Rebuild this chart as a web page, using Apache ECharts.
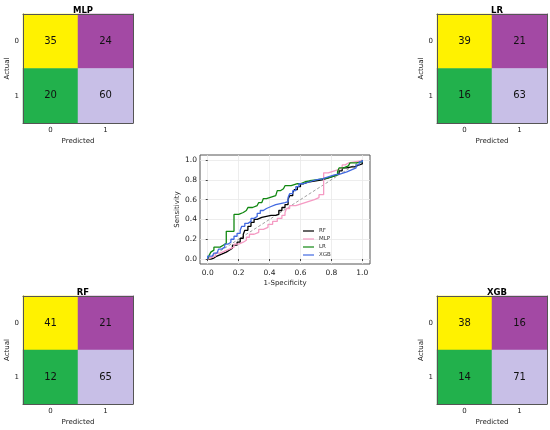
<!DOCTYPE html>
<html>
<head>
<meta charset="utf-8">
<script src="https://cdn.jsdelivr.net/npm/echarts@6/dist/echarts.min.js"></script>
<style>
  html, body { margin: 0; padding: 0; background: #fff; }
  #main { width: 550px; height: 430px; }
</style>
</head>
<body>
<div id="main"></div>
<script>
// confusion matrices: [TN, FP, FN, TP] read row by row (actual 0 / actual 1)
var cmMLP = [35, 24, 20, 60];
var cmLR = [39, 21, 16, 63];
var cmRF = [41, 21, 12, 65];
var cmXGB = [38, 16, 14, 71];
var classLabels = ['0', '1'];
var cellColors = ['#fff200', '#a349a4', '#22b14c', '#c8bfe7'];

// ROC curves, [1-specificity, sensitivity]
var rocRF = [[0,0],[0.02,0.01],[0.04,0.03],[0.06,0.05],[0.09,0.07],[0.12,0.09],[0.14,0.11],[0.16,0.14],[0.19,0.17],[0.21,0.21],[0.23,0.25],[0.24,0.29],[0.26,0.33],[0.28,0.37],[0.30,0.40],[0.32,0.42],[0.35,0.43],[0.38,0.44],[0.41,0.44],[0.44,0.45],[0.46,0.49],[0.48,0.52],[0.50,0.55],[0.52,0.60],[0.53,0.64],[0.55,0.67],[0.56,0.70],[0.58,0.73],[0.60,0.76],[0.62,0.78],[0.66,0.79],[0.70,0.80],[0.74,0.82],[0.78,0.84],[0.82,0.86],[0.85,0.89],[0.87,0.92],[0.90,0.93],[0.93,0.93],[0.95,0.95],[0.98,0.96],[1.00,0.98],[1.00,1.00]];
var rocMLP = [[0,0],[0,0.02],[0.03,0.03],[0.05,0.06],[0.08,0.08],[0.11,0.10],[0.14,0.12],[0.17,0.15],[0.20,0.17],[0.23,0.19],[0.25,0.22],[0.27,0.25],[0.30,0.27],[0.33,0.30],[0.36,0.32],[0.39,0.35],[0.42,0.38],[0.45,0.41],[0.48,0.44],[0.50,0.47],[0.51,0.51],[0.53,0.54],[0.57,0.56],[0.61,0.58],[0.65,0.60],[0.69,0.62],[0.72,0.65],[0.75,0.65],[0.75,0.87],[0.78,0.88],[0.80,0.90],[0.84,0.92],[0.87,0.95],[0.89,0.97],[0.91,0.99],[0.99,0.99],[1,1]];
var rocLR = [[0,0],[0,0.02],[0.01,0.04],[0.02,0.07],[0.03,0.09],[0.04,0.12],[0.08,0.12],[0.09,0.14],[0.10,0.16],[0.12,0.16],[0.12,0.28],[0.17,0.28],[0.17,0.45],[0.20,0.45],[0.20,0.47],[0.23,0.47],[0.23,0.49],[0.25,0.49],[0.26,0.52],[0.29,0.52],[0.30,0.54],[0.32,0.54],[0.33,0.57],[0.35,0.57],[0.36,0.61],[0.38,0.62],[0.40,0.63],[0.42,0.64],[0.44,0.66],[0.45,0.69],[0.47,0.71],[0.49,0.72],[0.50,0.74],[0.54,0.74],[0.55,0.76],[0.58,0.76],[0.60,0.78],[0.63,0.79],[0.66,0.80],[0.70,0.81],[0.74,0.82],[0.78,0.84],[0.82,0.85],[0.84,0.88],[0.85,0.92],[0.88,0.94],[0.91,0.94],[0.92,0.97],[0.96,0.98],[1.00,1.00]];
var rocXGB = [[0,0],[0,0.03],[0.03,0.03],[0.04,0.06],[0.06,0.07],[0.07,0.10],[0.09,0.12],[0.11,0.15],[0.13,0.17],[0.15,0.20],[0.17,0.23],[0.19,0.26],[0.21,0.29],[0.22,0.33],[0.24,0.36],[0.26,0.38],[0.28,0.41],[0.30,0.43],[0.32,0.46],[0.34,0.49],[0.36,0.51],[0.38,0.53],[0.41,0.55],[0.44,0.56],[0.47,0.57],[0.50,0.58],[0.52,0.62],[0.53,0.66],[0.55,0.69],[0.57,0.73],[0.59,0.76],[0.62,0.78],[0.66,0.80],[0.70,0.81],[0.74,0.83],[0.78,0.85],[0.82,0.86],[0.86,0.88],[0.90,0.90],[0.93,0.92],[0.96,0.95],[0.98,0.98],[1,1]];
var rocTicks = [0, 0.2, 0.4, 0.6, 0.8, 1.0];
var legendOrder = ['RF', 'MLP', 'LR', 'XGB'];

var chart = echarts.init(document.getElementById('main'));
var FONT = 'DejaVu Sans';

// one box per confusion matrix
var boxes = [
  { name: 'MLP', cm: cmMLP, left: 23, top: 14, height: 109 },
  { name: 'LR', cm: cmLR, left: 437, top: 14, height: 109 },
  { name: 'RF', cm: cmRF, left: 23, top: 296, height: 108 },
  { name: 'XGB', cm: cmXGB, left: 437, top: 296, height: 108 }
];

var grid = [], xAxis = [], yAxis = [], series = [], title = [];

boxes.forEach(function (b, i) {
  grid.push({ left: b.left, top: b.top, width: 110, height: b.height });
  title.push({
    text: b.name, left: b.left + 55, top: b.top - 13, textAlign: 'center',
    textStyle: { fontFamily: FONT, fontSize: 8.5, fontWeight: 'bold', color: '#000' }
  });
  var ax = 2 * i;
  xAxis.push({
    type: 'category', gridIndex: i, data: classLabels, position: 'bottom', z: 5,
    name: 'Predicted', nameLocation: 'middle', nameGap: 15,
    nameTextStyle: { fontFamily: FONT, fontSize: 7, color: '#222' },
    axisLine: { lineStyle: { color: '#555', width: 1 } },
    axisTick: { alignWithLabel: true, length: 3, lineStyle: { color: '#444' } },
    axisLabel: { fontFamily: FONT, fontSize: 7, color: '#222', margin: 4 },
    splitLine: { show: false }
  });
  xAxis.push({
    type: 'category', gridIndex: i, data: classLabels, position: 'top', z: 5,
    axisLine: { lineStyle: { color: '#555', width: 1 } },
    axisTick: { show: false }, axisLabel: { show: false }, splitLine: { show: false }
  });
  yAxis.push({
    type: 'category', gridIndex: i, data: classLabels, inverse: true, position: 'left', z: 5,
    name: 'Actual', nameLocation: 'middle', nameGap: 12,
    nameTextStyle: { fontFamily: FONT, fontSize: 7, color: '#222' },
    axisLine: { lineStyle: { color: '#555', width: 1 } },
    axisTick: { alignWithLabel: true, length: 3, lineStyle: { color: '#444' } },
    axisLabel: { fontFamily: FONT, fontSize: 7, color: '#222', margin: 4 },
    splitLine: { show: false }
  });
  yAxis.push({
    type: 'category', gridIndex: i, data: classLabels, inverse: true, position: 'right', z: 5,
    axisLine: { lineStyle: { color: '#555', width: 1 } },
    axisTick: { show: false }, axisLabel: { show: false }, splitLine: { show: false }
  });
  var cells = b.cm.map(function (v, k) {
    return { value: [k % 2, Math.floor(k / 2), v], itemStyle: { color: cellColors[k] } };
  });
  series.push({
    type: 'heatmap', xAxisIndex: ax, yAxisIndex: ax, data: cells,
    label: { show: true, formatter: function (p) { return p.value[2]; },
      fontFamily: FONT, fontSize: 10, color: '#111' },
    emphasis: { disabled: true }
  });
});

// ROC panel
var ri = boxes.length;
grid.push({ left: 200, top: 155, width: 170, height: 109, show: true,
  borderColor: '#555', borderWidth: 1, backgroundColor: '#fff' });
xAxis.push({
  type: 'value', gridIndex: ri, min: -0.05, max: 1.05,
  name: '1-Specificity', nameLocation: 'middle', nameGap: 16,
  nameTextStyle: { fontFamily: FONT, fontSize: 7, color: '#222' },
  axisLine: { show: false },
  axisTick: { show: true, length: 2, customValues: rocTicks, lineStyle: { color: '#444' } },
  axisLabel: { fontFamily: FONT, fontSize: 7.5, color: '#222', margin: 5, customValues: rocTicks,
    formatter: function (v) { return v.toFixed(1); } },
  splitLine: { show: true, lineStyle: { color: '#e8e8e8', width: 0.8 } }
});
yAxis.push({
  type: 'value', gridIndex: ri, min: -0.05, max: 1.05,
  name: 'Sensitivity', nameLocation: 'middle', nameGap: 19,
  nameTextStyle: { fontFamily: FONT, fontSize: 7, color: '#222' },
  axisLine: { show: false },
  axisTick: { show: true, length: 2, customValues: rocTicks, lineStyle: { color: '#444' } },
  axisLabel: { fontFamily: FONT, fontSize: 7.5, color: '#222', margin: 3, customValues: rocTicks,
    formatter: function (v) { return v.toFixed(1); } },
  splitLine: { show: true, lineStyle: { color: '#e8e8e8', width: 0.8 } }
});
var rxa = xAxis.length - 1, rya = yAxis.length - 1;

series.push({
  type: 'line', xAxisIndex: rxa, yAxisIndex: rya, data: [[0, 0], [1, 1]],
  showSymbol: false, silent: true,
  lineStyle: { color: '#888', width: 0.8, type: [3, 2] }
});
var rocs = [
  { name: 'RF', data: rocRF, color: '#000000' },
  { name: 'MLP', data: rocMLP, color: '#f59ac3' },
  { name: 'LR', data: rocLR, color: '#118811' },
  { name: 'XGB', data: rocXGB, color: '#4169e1' }
];
rocs.forEach(function (r) {
  series.push({
    type: 'line', name: r.name, xAxisIndex: rxa, yAxisIndex: rya, data: r.data,
    step: 'end', showSymbol: false, color: r.color,
    lineStyle: { color: r.color, width: 1.3 }
  });
});

chart.setOption({
  animation: false,
  title: title,
  grid: grid,
  xAxis: xAxis,
  yAxis: yAxis,
  legend: {
    data: legendOrder,
    orient: 'vertical', left: 298, top: 223, itemGap: 2,
    itemWidth: 11, itemHeight: 5, icon: 'path://M0,2 L11,2 L11,3.2 L0,3.2 Z',
    textStyle: { fontFamily: FONT, fontSize: 5.5, color: '#333' }
  },
  series: series
});
</script>
</body>
</html>
